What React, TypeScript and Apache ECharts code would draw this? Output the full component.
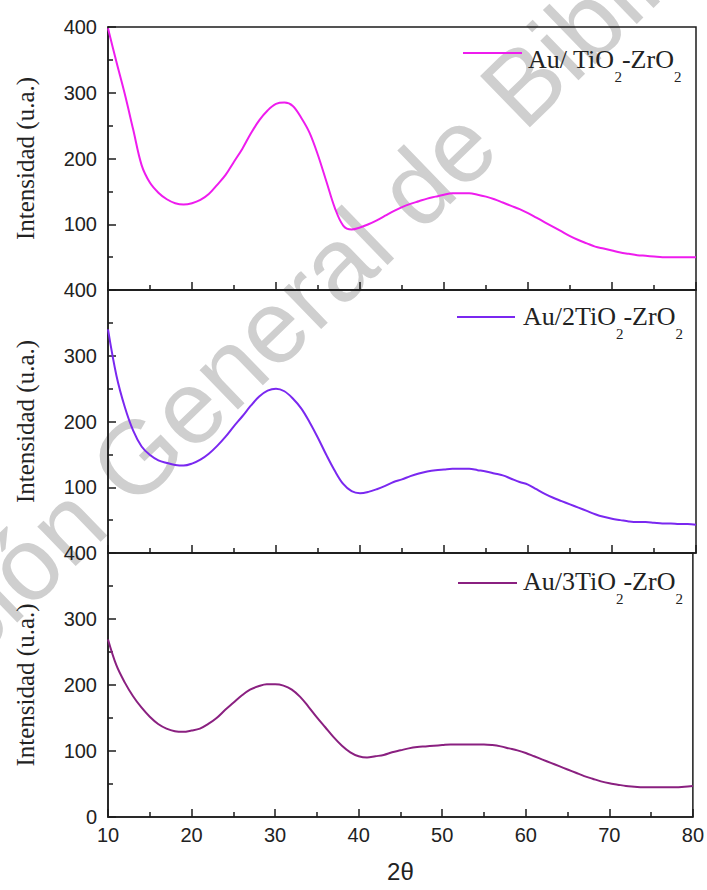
import React, { useEffect, useRef } from "react";
import * as echarts from "echarts";

const twoTheta: number[] = [];
for (let t = 10; t <= 80; t++) twoTheta.push(t);

const seriesNames = ["Au/ TiO2-ZrO2", "Au/2TiO2-ZrO2", "Au/3TiO2-ZrO2"];
const seriesColors = ["#ee1cee", "#7a28f0", "#8a2080"];

const valuesTi1 = [
  398, 347, 298, 244, 190, 163, 148, 138, 132, 130,
  132, 137, 146, 160, 175, 195, 215, 238, 258, 273,
  283, 285, 280, 262, 239, 205, 165, 125, 98, 92,
  95, 100, 106, 113, 120, 126, 131, 135, 139, 142,
  145, 147, 147, 147, 145, 142, 138, 133, 128, 123,
  117, 110, 103, 96, 89, 82, 76, 71, 66, 63,
  60, 57, 55, 53, 52, 51, 50, 50, 50, 50, 50,
];
const valuesTi2 = [
  340, 270, 222, 186, 162, 149, 141, 137, 134, 133,
  136, 142, 151, 163, 177, 193, 208, 224, 238, 247,
  250, 246, 235, 220, 199, 175, 149, 125, 105, 94,
  91, 93, 97, 102, 108, 112, 117, 121, 124, 126,
  127, 128, 128, 128, 126, 124, 121, 118, 113, 108,
  104, 97, 90, 84, 79, 74, 69, 64, 59, 55,
  52, 50, 48, 47, 47, 46, 45, 45, 44, 44, 43,
];
const valuesTi3 = [
  269, 230, 204, 183, 166, 152, 141, 134, 130, 129,
  131, 134, 141, 150, 162, 173, 184, 193, 198, 201,
  201, 199, 193, 182, 167, 151, 136, 121, 108, 98,
  92, 90, 92, 94, 98, 101, 104, 106, 107, 108,
  109, 110, 110, 110, 110, 110, 109, 107, 104, 101,
  97, 92, 87, 82, 77, 72, 67, 62, 58, 54,
  51, 49, 47, 46, 45, 45, 45, 45, 45, 46, 47,
];
const allValues = [valuesTi1, valuesTi2, valuesTi3];

const xTicks = { min: 10, max: 80, interval: 10 };
const yTicks = { min: 0, max: 400, interval: 100 };
const yTitle = "Intensidad (u.a.)";
const xTitle = "2θ";

export default function App() {
  const ref = useRef<HTMLDivElement>(null);
  useEffect(() => {
    if (!ref.current) return;
    const chart = echarts.init(ref.current, null, { renderer: "svg" });
    const tops = [27, 290, 553];
    const heights = [263, 263, 264];
    const frame = "#1c1c1c";
    const sans = "'Liberation Sans', Arial, sans-serif";
    const serif = "'Liberation Serif', 'Times New Roman', serif";

    const grids = tops.map((t, i) => ({
      left: 108,
      right: 11,
      top: t,
      height: heights[i],
      show: true,
      borderColor: frame,
      borderWidth: 1.5,
      backgroundColor: "transparent",
    }));
    const xAxes = tops.map((_, i) => ({
      type: "value",
      gridIndex: i,
      min: xTicks.min,
      max: xTicks.max,
      interval: xTicks.interval,
      name: i === 2 ? xTitle : "",
      nameLocation: "middle",
      nameGap: 42,
      nameTextStyle: { fontFamily: sans, fontSize: 24, color: "#222" },
      axisLine: { show: true, lineStyle: { color: frame, width: 1.5 } },
      axisTick: { show: true, inside: true, length: 8, lineStyle: { color: frame, width: 1.5 } },
      minorTick: { show: true, splitNumber: 2, length: 5, lineStyle: { color: frame, width: 1.5 } },
      splitLine: { show: false },
      axisLabel: {
        show: i === 2,
        fontFamily: sans,
        fontSize: 20,
        color: "#222",
        margin: 8,
      },
    }));
    const yAxes = tops.map((_, i) => ({
      type: "value",
      gridIndex: i,
      min: yTicks.min,
      max: yTicks.max,
      interval: yTicks.interval,
      name: yTitle,
      nameLocation: "middle",
      nameGap: 70,
      nameTextStyle: { fontFamily: serif, fontSize: 25, color: "#222" },
      axisLine: { show: true, lineStyle: { color: frame, width: 1.5 } },
      axisTick: { show: true, inside: true, length: 8, lineStyle: { color: frame, width: 1.5 } },
      minorTick: { show: true, splitNumber: 2, length: 5, lineStyle: { color: frame, width: 1.5 } },
      splitLine: { show: false },
      axisLabel: {
        fontFamily: sans,
        fontSize: 20,
        color: "#222",
        margin: 11,
        formatter: (v: number) => (v === 0 && i < 2 ? "" : String(v)),
      },
    }));
    const series = allValues.map((vals, i) => ({
      type: "line",
      name: seriesNames[i],
      xAxisIndex: i,
      yAxisIndex: i,
      data: vals.map((v, k) => [twoTheta[k], v]),
      showSymbol: false,
      symbol: "none",
      smooth: 0.35,
      lineStyle: { color: seriesColors[i], width: 2 },
      itemStyle: { color: seriesColors[i] },
      z: 3,
    }));

    // legend boxes drawn as graphic (line sample + rich text with subscripts)
    const legendLineY = [53, 317, 583];
    const legendLineX = [[463, 522], [457, 515], [458, 517]];
    const legendTextX = [528, 523, 523];
    const legendCapCenter = [60, 317, 582];
    const richName = (name: string) =>
      name
        .split("O2")
        .map((s, k, arr) => (s ? "{m|" + s + (k < arr.length - 1 ? "O" : "") + "}" : ""))
        .join("{s|2}");
    const legendGraphics: any[] = [];
    seriesNames.forEach((n, i) => {
      legendGraphics.push({
        type: "line",
        silent: true,
        z: 10,
        shape: {
          x1: legendLineX[i][0],
          y1: legendLineY[i],
          x2: legendLineX[i][1],
          y2: legendLineY[i],
        },
        style: { stroke: seriesColors[i], lineWidth: 2 },
      });
      legendGraphics.push({
        type: "text",
        silent: true,
        z: 10,
        x: legendTextX[i],
        y: legendCapCenter[i] - 14,
        style: {
          text: richName(n),
          align: "left",
          textAlign: "left",
          verticalAlign: "top",
          textVerticalAlign: "top",
          fontFamily: serif,
          fontSize: 26,
          fill: "#222",
          rich: {
            m: {
              fontFamily: serif,
              fontSize: 26,
              fill: "#222",
              color: "#222",
              lineHeight: 28,
              verticalAlign: "top",
            },
            s: {
              fontFamily: serif,
              fontSize: 15,
              fill: "#222",
              color: "#222",
              lineHeight: 15,
              padding: [23, 0, 0, 0],
              verticalAlign: "top",
            },
          },
        },
      });
    });

    const rot = (44 * Math.PI) / 180;
    const wm = {
      fontSize: 104,
      fontFamily: sans,
      fill: "#cfcfcf",
      verticalAlign: "middle",
      textVerticalAlign: "middle",
    };
    chart.setOption({
      animation: false,
      backgroundColor: "#ffffff",
      grid: grids,
      xAxis: xAxes,
      yAxis: yAxes,
      series,
      graphic: [
        {
          type: "text",
          x: 108,
          y: 485,
          rotation: rot,
          silent: true,
          z: -1,
          style: { ...wm, text: "General de Bibliotecas", align: "left", textAlign: "left" },
        },
        {
          type: "text",
          x: 87,
          y: 505,
          rotation: rot,
          silent: true,
          z: -1,
          style: { ...wm, text: "Dirección", align: "right", textAlign: "right" },
        },
        ...legendGraphics,
      ],
    });
    return () => chart.dispose();
  }, []);
  return (
    <div
      ref={ref}
      style={{ position: "absolute", left: 0, top: 0, width: 707, height: 890 }}
    />
  );
}
